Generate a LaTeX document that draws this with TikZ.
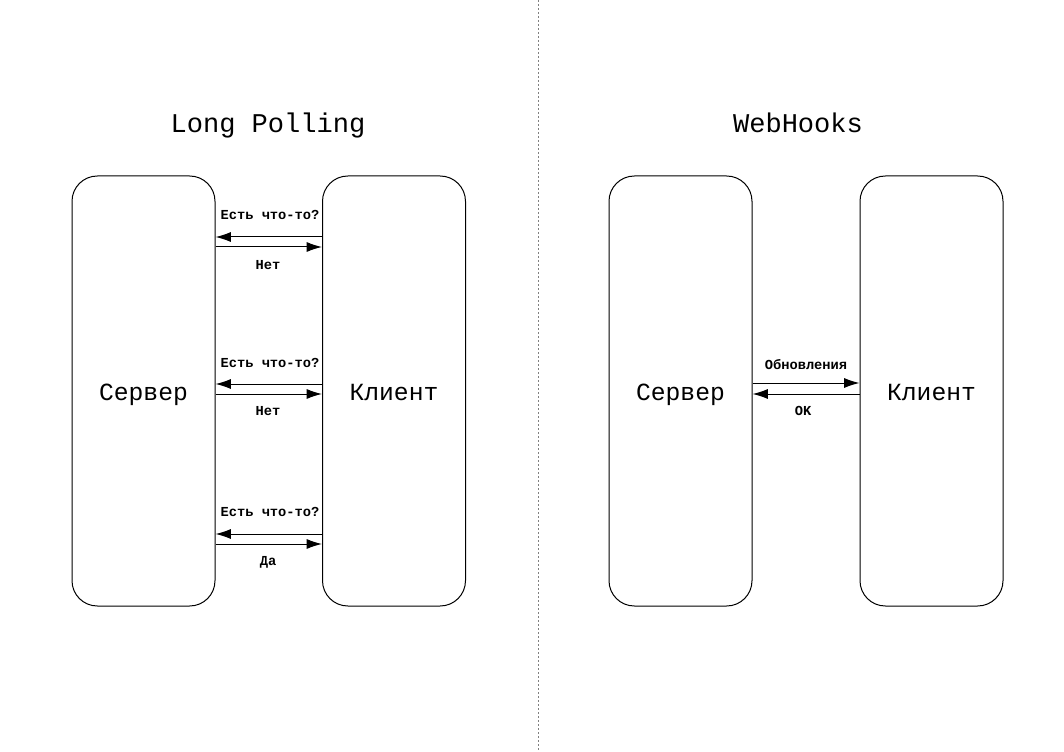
\documentclass[tikz,border=0pt]{standalone}
\usepackage{fontspec}
\setmainfont{Liberation Mono}
\usetikzlibrary{arrows.meta,calc}
\begin{document}
\begin{tikzpicture}[x=0.75pt,y=-0.75pt,
  box/.style={draw,line width=0.75pt,rounded corners=19pt,minimum width=107.25pt,minimum height=322.5pt,inner sep=0pt,text height=15pt,text depth=1.5pt,font=\fontsize{18.5}{22}\selectfont},
  ttl/.style={text height=14pt,text depth=4pt,font=\fontsize{20.3}{24}\selectfont},
  lbl/.style={text height=7.5pt,text depth=2pt,font=\fontsize{10.3}{12}\selectfont\bfseries},
  arr/.style={line width=0.75pt,-{Latex[length=11.5pt,width=7.5pt]}}]
\useasboundingbox (0,0) rectangle (1064,752);
\draw[gray,line width=0.75pt,dash pattern=on 1.5pt off 1.5pt] (538,0) -- (538,752);
\node[ttl] (t1) at (268,126) {Long Polling};
\node[ttl] (t2) at (798,126) {WebHooks};
\node[box] (srvL) at (143.5,391) {Сервер};
\node[box] (cliL) at (394,391) {Клиент};
\node[box] (srvR) at (680.5,391) {Сервер};
\node[box] (cliR) at (931.5,391) {Клиент};
% long polling rows
\coordinate (a1) at (0,237); \coordinate (b1) at (0,247);
\coordinate (a2) at (0,384); \coordinate (b2) at (0,394);
\coordinate (a3) at (0,534); \coordinate (b3) at (0,544);
\draw[arr] (cliL.west |- a1) -- (srvL.east |- a1);
\draw[arr] (srvL.east |- b1) -- (cliL.west |- b1);
\draw[arr] (cliL.west |- a2) -- (srvL.east |- a2);
\draw[arr] (srvL.east |- b2) -- (cliL.west |- b2);
\draw[arr] (cliL.west |- a3) -- (srvL.east |- a3);
\draw[arr] (srvL.east |- b3) -- (cliL.west |- b3);
\node[lbl] (q1) at (270,216) {Есть что-то?};
\node[lbl] (n1) at (268,266) {Нет};
\node[lbl] (q2) at (270,364) {Есть что-то?};
\node[lbl] (n2) at (268,412) {Нет};
\node[lbl] (q3) at (270,513) {Есть что-то?};
\node[lbl] (n3) at (268,562) {Да};
% webhooks
\coordinate (c1) at (0,383); \coordinate (d1) at (0,394);
\draw[arr] (srvR.east |- c1) -- (cliR.west |- c1);
\draw[arr] (cliR.west |- d1) -- (srvR.east |- d1);
\node[lbl] (u1) at (806,366) {Обновления};
\node[lbl] (k1) at (803,412) {OK};
\end{tikzpicture}
\end{document}
